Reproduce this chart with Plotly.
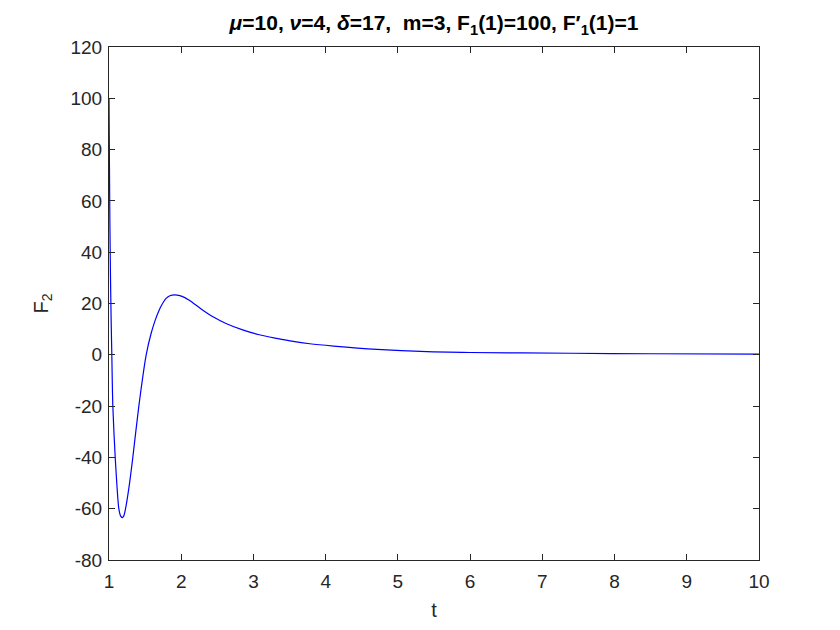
import plotly.graph_objects as go

# values
t_vals = [1.000, 1.006, 1.012, 1.021, 1.030, 1.039, 1.053, 1.086, 1.136, 1.160,
          1.183, 1.205, 1.229, 1.280, 1.330, 1.413, 1.515, 1.580, 1.640,
          1.700, 1.750, 1.790, 1.850, 1.907, 1.980, 2.050, 2.100, 2.160, 2.300,
          2.440, 2.620, 2.850, 3.080, 3.320, 3.550, 3.780, 4.110, 4.710, 5.400,
          6.000, 7.400, 8.500, 10.000]
f2_vals = [100.0, 75.0, 52.0, 29.4, 13.0, 0.0, -20.0, -40.0, -60.0, -62.8,
           -63.5, -62.8, -60.0, -51.0, -40.0, -20.0, 0.0, 8.0, 13.5,
           17.8, 20.4, 22.0, 23.1, 23.4, 23.1, 22.3, 21.5, 20.3, 17.4,
           14.8, 12.2, 9.7, 7.8, 6.4, 5.2, 4.3, 3.4, 2.1, 1.2,
           0.9, 0.6, 0.4, 0.25]

x_ticks = [1, 2, 3, 4, 5, 6, 7, 8, 9, 10]
y_ticks = [-80, -60, -40, -20, 0, 20, 40, 60, 80, 100, 120]
y_tick_labels = ["-80", "-60", "-40", "-20", "0", "20", "40", "60", "80", "100", "120"]

title_text = ("<b><i>μ</i>=10, <i>ν</i>=4, <i>δ</i>=17,  m=3, "
              "F<sub>1</sub>(1)=100, F′<sub>1</sub>(1)=1</b>")

FONT = "Liberation Sans, Arial"

fig = go.Figure()
fig.add_trace(go.Scatter(
    x=t_vals, y=f2_vals,
    mode="lines",
    line=dict(color="rgb(0,0,255)", width=1.2, shape="spline", smoothing=0.7),
    showlegend=False,
))

axis_style = dict(
    showgrid=False,
    zeroline=False,
    showline=True,
    linecolor="#262626",
    linewidth=1,
    mirror="ticks",
    ticks="inside",
    ticklen=6,
    tickcolor="#262626",
    tickfont=dict(family=FONT, size=19, color="#262626"),
)

# page body has an 8px margin, so the plot box is shifted back by 8px
fig.update_layout(
    width=840,
    height=630,
    paper_bgcolor="white",
    plot_bgcolor="white",
    margin=dict(l=101, r=89, t=39, b=78),
    title=dict(
        text=title_text,
        x=426 / 840,
        xanchor="center",
        y=1 - 15 / 630,
        yanchor="middle",
        font=dict(family=FONT, size=21, color="black"),
    ),
    xaxis=dict(
        range=[1, 10],
        tickvals=x_ticks,
        ticklabelstandoff=4,
        title=dict(text="t", font=dict(family=FONT, size=20, color="#262626"), standoff=12),
        **axis_style,
    ),
    yaxis=dict(
        range=[-80, 120],
        tickvals=y_ticks,
        ticktext=y_tick_labels,
        ticklabelstandoff=2,
        title=dict(text="F<sub>2</sub>", font=dict(family=FONT, size=20, color="#262626"), standoff=16),
        **axis_style,
    ),
)

fig.write_html("out.html")
